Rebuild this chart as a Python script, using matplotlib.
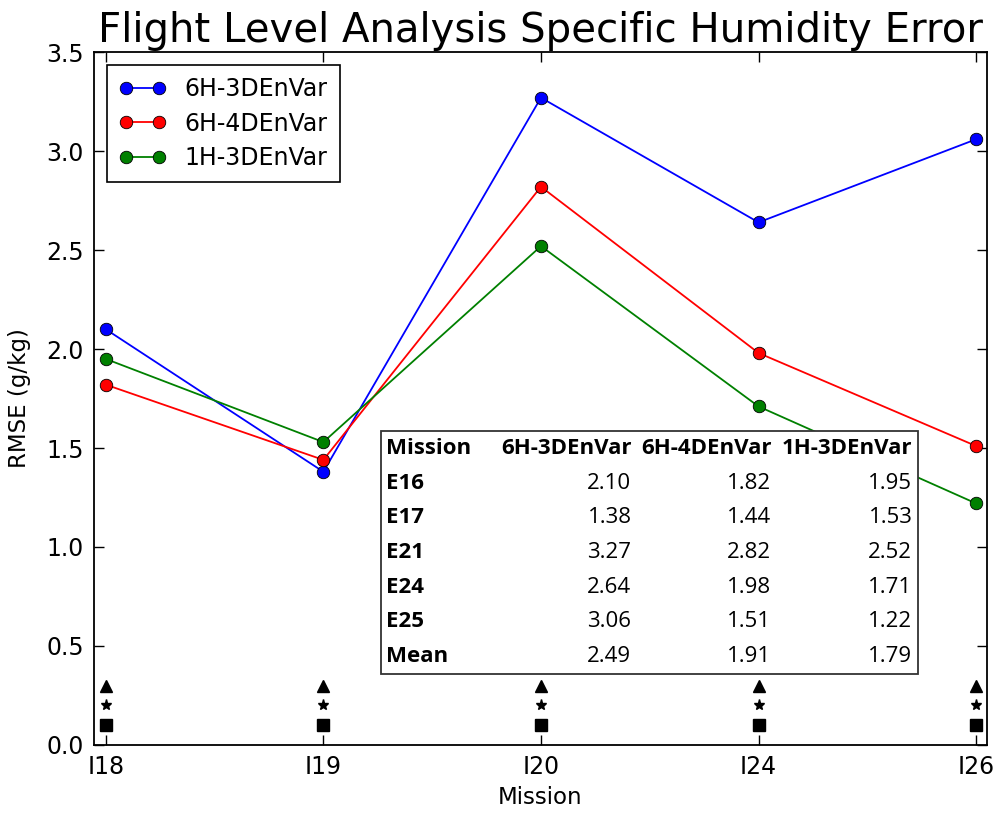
import matplotlib
matplotlib.use("Agg")
import matplotlib.pyplot as plt
from matplotlib.patches import Rectangle

# data
missions = ["I18", "I19", "I20", "I24", "I26"]
names = ["6H-3DEnVar", "6H-4DEnVar", "1H-3DEnVar"]
rmse_6h3d = [2.10, 1.38, 3.27, 2.64, 3.06]
rmse_6h4d = [1.82, 1.44, 2.82, 1.98, 1.51]
rmse_1h3d = [1.95, 1.53, 2.52, 1.71, 1.22]
colors = ["b", "r", "g"]

table_rows = ["E16", "E17", "E21", "E24", "E25", "Mean"]
table_6h3d = ["2.10", "1.38", "3.27", "2.64", "3.06", "2.49"]
table_6h4d = ["1.82", "1.44", "2.82", "1.98", "1.51", "1.91"]
table_1h3d = ["1.95", "1.53", "2.52", "1.71", "1.22", "1.79"]

# little symbol stacks at the bottom of each mission
sym_levels = [0.1, 0.2, 0.3]
sym_markers = ["s", "*", "^"]
sym_sizes = [9, 8, 9]

plt.rcParams["font.family"] = "DejaVu Sans"
plt.rcParams["xtick.direction"] = "in"
plt.rcParams["ytick.direction"] = "in"
plt.rcParams["xtick.top"] = True
plt.rcParams["ytick.right"] = True

fig = plt.figure(figsize=(9.98, 8.15), dpi=100)
ax = fig.add_axes([0.094, 0.086, 0.895, 0.850])

x = list(range(len(missions)))
for vals, name, c in zip([rmse_6h3d, rmse_6h4d, rmse_1h3d], names, colors):
    ax.plot(x, vals, color=c, marker="o", ms=9, lw=1.3, label=name,
            markeredgecolor="k", markeredgewidth=0.6)

for lev, m, s in zip(sym_levels, sym_markers, sym_sizes):
    ax.plot(x, [lev] * len(x), linestyle="none", marker=m, ms=s, color="k")

ax.set_xlim(-0.055, 4.05)
ax.set_ylim(0, 3.5)
ax.set_xticks(x)
ax.set_xticklabels(missions)
ax.set_yticks([0.0, 0.5, 1.0, 1.5, 2.0, 2.5, 3.0, 3.5])
ax.set_yticklabels(["%.1f" % v for v in ax.get_yticks()])
ax.tick_params(labelsize=17, length=7, width=1, pad=7)
for sp in ax.spines.values():
    sp.set_linewidth(1.3)

ax.set_xlabel("Mission", fontsize=16.5, labelpad=5)
ax.set_ylabel("RMSE (g/kg)", fontsize=16.5, labelpad=11)
ax.set_title("Flight Level Analysis Specific Humidity Error", fontsize=29, pad=7)

leg = ax.legend(loc="upper left", numpoints=2, fontsize=17, fancybox=False,
                framealpha=1, edgecolor="k", borderpad=0.5, handlelength=2.0,
                labelspacing=0.45, borderaxespad=0.55, handletextpad=0.8)
leg.get_frame().set_linewidth(1.2)

# table
cells = [["Mission"] + names]
for r, a, b, c in zip(table_rows, table_6h3d, table_6h4d, table_1h3d):
    cells.append([r, a, b, c])

tb_box = [0.3214, 0.1025, 0.6013, 0.3506]
ax.add_patch(Rectangle((tb_box[0], tb_box[1]), tb_box[2], tb_box[3],
                       transform=ax.transAxes, facecolor="white",
                       edgecolor="#333333", lw=1.3, zorder=4))
tbl = ax.table(cellText=cells, colWidths=[119, 137, 140, 141],
               bbox=tb_box, edges="open", cellLoc="right")
tbl.set_zorder(5)
tbl.auto_set_font_size(False)
for (r, c), cell in tbl.get_celld().items():
    cell.PAD = 0.04
    txt = cell.get_text()
    txt.set_fontsize(16)
    txt.set_family("Open Sans")
    if c == 0:
        txt.set_horizontalalignment("left")
        cell._loc = "left"
    if r == 0 or c == 0:
        txt.set_fontweight("bold")

fig.savefig("out.png", dpi=100)
